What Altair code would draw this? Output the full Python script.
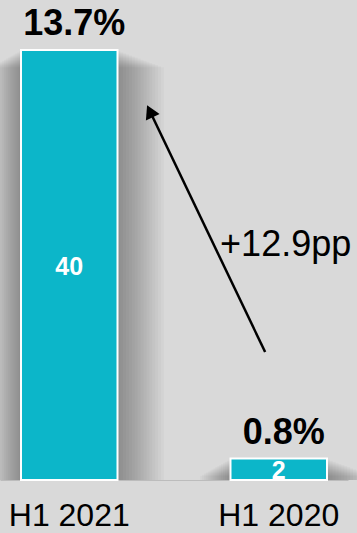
import altair as alt
import pandas as pd

# ---- data ----
categories = ["H1 2021", "H1 2020"]
values = [40, 2]
pct_labels = ["13.7%", "0.8%"]
value_labels = ["40", "2"]

# annotation (in data units: x = category index, y = value)
arrow_x = [0.935, 0.385]
arrow_y = [11.9, 34.3]
arrow_text = "+12.9pp"
arrow_text_x = 0.72
arrow_text_y = 20.8

BG = "#d9d9d9"
BAR = "#0cb6c9"
FONT = "Liberation Sans"
N_SHADOW = 16

df = pd.DataFrame({
    "cat": categories,
    "value": values,
    "pct": pct_labels,
    "vlabel": value_labels,
})
df["half"] = df["value"] / 2

shadow_rows = []
for k in range(1, N_SHADOW + 1):
    for c, v in zip(categories, values):
        shadow_rows.append({"cat": c, "k": k, "value": max(v - 0.1 * k, 0)})
shadow_df = pd.DataFrame(shadow_rows)

xband = alt.X("cat:N", sort=categories,
              scale=alt.Scale(paddingInner=0.5394, paddingOuter=0.1003),
              axis=alt.Axis(title=None, labelAngle=0, ticks=False,
                            labelFontSize=32, labelFont=FONT, labelColor="black",
                            labelPadding=20, domainColor="#bcbcbc", domainWidth=1))
yscale = alt.Scale(domain=[0, 40], nice=False)
yenc = alt.Y("value:Q", scale=yscale, axis=None)

base = alt.Chart(df)

shadows = [
    alt.Chart(shadow_df).transform_filter(alt.datum.k == k).mark_bar(
        width=96.5 + 4.8 * k, xOffset=0.5 * k, color="black", opacity=0.022
    ).encode(x=xband, y=yenc)
    for k in range(1, N_SHADOW + 1)
]

bars = base.mark_bar(color=BAR, stroke="white", strokeWidth=2).encode(x=xband, y=yenc)

top_text = base.mark_text(baseline="alphabetic", dy=-15, dx=5, fontSize=36, fontWeight="bold",
                          font=FONT, color="black").encode(x=xband, y=yenc, text="pct:N")

in_text = base.mark_text(baseline="middle", dy=2, fontSize=25, fontWeight="bold",
                         font=FONT, color="white").encode(
    x=xband, y=alt.Y("half:Q", scale=yscale, axis=None), text="vlabel:N")

band_layer = alt.layer(*shadows, bars, top_text, in_text)

ann_df = pd.DataFrame({"x": [arrow_x[0]], "y": [arrow_y[0]],
                       "x2": [arrow_x[1]], "y2": [arrow_y[1]]})
xq = alt.Scale(domain=[-0.3306, 1.3305], nice=False, zero=False)
ann = alt.Chart(ann_df)
rule = ann.mark_rule(color="black", strokeWidth=2.5).encode(
    x=alt.X("x:Q", scale=xq, axis=None), y=alt.Y("y:Q", scale=yscale, axis=None),
    x2="x2:Q", y2="y2:Q")
head = ann.mark_point(shape="triangle-up", size=230, filled=True, color="black",
                      opacity=1, angle=334.5).encode(
    x=alt.X("x2:Q", scale=xq, axis=None), y=alt.Y("y2:Q", scale=yscale, axis=None))
txt_df = pd.DataFrame({"x": [arrow_text_x], "y": [arrow_text_y], "t": [arrow_text]})
label = alt.Chart(txt_df).mark_text(align="left", baseline="alphabetic", fontSize=36,
                                    font=FONT, color="black").encode(
    x=alt.X("x:Q", scale=xq, axis=None), y=alt.Y("y:Q", scale=yscale, axis=None), text="t:N")
ann_layer = alt.layer(rule, head, label)

chart = alt.layer(band_layer, ann_layer).resolve_scale(x="independent").properties(
    width=348, height=430,
    autosize=alt.AutoSizeParams(type="none"),
    padding={"left": 0, "right": 9, "top": 50, "bottom": 53},
    background=BG,
).configure_view(stroke=None)

chart.save("out.html", embed_options={"renderer": "svg", "actions": False})
